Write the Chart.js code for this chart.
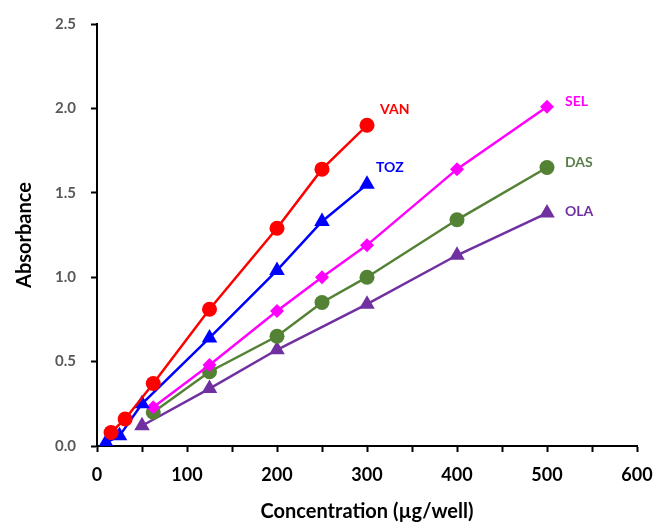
<!DOCTYPE html>
<html>
<head>
<meta charset="utf-8">
<script src="https://cdn.jsdelivr.net/npm/chart.js@4"></script>
<style>
	html, body { margin: 0; padding: 0; background: #fff; }
	#wrap { width: 655px; height: 524px; }
</style>
</head>
<body>
<div id="wrap"><canvas id="calib"></canvas></div>
<script>
/*************************
DATA
*************************/

//concentrations (µg/well) and absorbances
const vanConc = [15.6, 31.25, 62.5, 125, 200, 250, 300];
const vanAbs = [0.08, 0.16, 0.37, 0.81, 1.29, 1.64, 1.90];

const tozConc = [10, 25, 50, 125, 200, 250, 300];
const tozAbs = [0.02, 0.06, 0.25, 0.64, 1.04, 1.33, 1.55];

const selConc = [62.5, 125, 200, 250, 300, 400, 500];
const selAbs = [0.23, 0.48, 0.80, 1.00, 1.19, 1.64, 2.01];

const dasConc = [62.5, 125, 200, 250, 300, 400, 500];
const dasAbs = [0.20, 0.44, 0.65, 0.85, 1.00, 1.34, 1.65];

const olaConc = [50, 125, 200, 300, 400, 500];
const olaAbs = [0.12, 0.34, 0.57, 0.84, 1.13, 1.38];

const yTicks = [0, 0.5, 1.0, 1.5, 2.0, 2.5];
const xTicks = [0, 100, 200, 300, 400, 500, 600];

//colors
const vanColor = '#ff0000';
const tozColor = '#0000ff';
const selColor = '#ff00ff';
const dasColor = '#548235';
const olaColor = '#7030a0';

const fontFamily = 'Lato, "Open Sans", sans-serif';

/*************************
HELPERS
*************************/

function ToPoints(xs, ys){
	return xs.map((x, i) => ({x: x, y: ys[i]}));
}

function MakeSeries(label, xs, ys, color, style, radius, labelColor, dx, dy){
	return {
		label: label,
		data: ToPoints(xs, ys),
		showLine: true,
		borderColor: color,
		backgroundColor: color,
		borderWidth: 2.5,
		pointStyle: style,
		pointRadius: radius,
		pointBorderWidth: 0,
		tagColor: labelColor,
		tagDx: dx,
		tagDy: dy,
	};
}

//writes the series name next to its last point
const endLabels = {
	id: 'endLabels',
	afterDatasetsDraw(chart){
		const ctx = chart.ctx;
		ctx.save();
		ctx.font = 'bold 14px ' + fontFamily;
		ctx.textBaseline = 'middle';
		ctx.textAlign = 'left';
		chart.data.datasets.forEach((ds, i) => {
			const meta = chart.getDatasetMeta(i);
			const last = meta.data[meta.data.length - 1];
			ctx.fillStyle = ds.tagColor;
			ctx.fillText(ds.label, last.x + ds.tagDx, last.y + ds.tagDy);
		});
		ctx.restore();
	}
};

/*************************
CHART
*************************/

const datasets = [
	MakeSeries('VAN', vanConc, vanAbs, vanColor, 'circle', 7.5, vanColor, 13, -16),
	MakeSeries('TOZ', tozConc, tozAbs, tozColor, 'triangle', 9, tozColor, 9, -17),
	MakeSeries('SEL', selConc, selAbs, selColor, 'rectRot', 7, selColor, 18, -5),
	MakeSeries('DAS', dasConc, dasAbs, dasColor, 'circle', 7.5, '#5b7f4a', 18, -5),
	MakeSeries('OLA', olaConc, olaAbs, olaColor, 'triangle', 9, olaColor, 18, -2),
];

new Chart(document.querySelector('#calib').getContext('2d'), {
	type: 'scatter',
	data: {datasets: datasets},
	plugins: [endLabels],
	options: {
		responsive: true,
		maintainAspectRatio: false,
		animation: false,
		layout: {padding: {top: 22, right: 18, left: 13, bottom: 0}},
		plugins: {
			legend: {display: false},
			tooltip: {enabled: false},
		},
		scales: {
			x: {
				type: 'linear',
				min: 0,
				max: 600,
				ticks: {
					stepSize: 50,
					color: '#000',
					font: {family: fontFamily, size: 18, weight: 'bold'},
					padding: 12,
					maxRotation: 0,
					callback: (v) => xTicks.includes(v) ? String(v) : '',
				},
				grid: {drawOnChartArea: false, tickLength: 6, tickWidth: 2, tickColor: '#000'},
				border: {color: '#000', width: 2},
				title: {
					display: true,
					text: 'Concentration (µg/well)',
					color: '#000',
					font: {family: fontFamily, size: 20, weight: 'bold'},
					padding: {top: 4, bottom: 0},
				},
				afterFit(scale){
					scale.height = 78;
					scale.paddingLeft = 0;
					scale.paddingRight = 0;
				},
			},
			y: {
				min: 0,
				max: 2.5,
				ticks: {
					stepSize: 0.5,
					color: '#595959',
					font: {family: fontFamily, size: 15, weight: 'bold'},
					padding: 15,
					callback: (v) => yTicks.includes(v) ? v.toFixed(1) : '',
				},
				grid: {drawOnChartArea: false, tickLength: 6, tickWidth: 2, tickColor: '#000'},
				border: {color: '#000', width: 2},
				title: {
					display: true,
					text: 'Absorbance',
					color: '#000',
					font: {family: fontFamily, size: 20, weight: 'bold'},
					padding: {top: 0, bottom: 4},
				},
				afterFit(scale){ scale.width = 84; },
			},
		},
	},
});
</script>
</body>
</html>
